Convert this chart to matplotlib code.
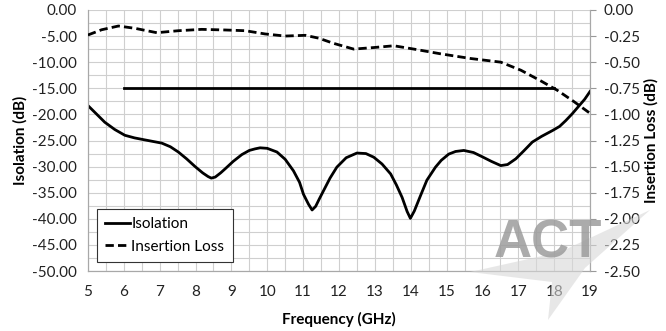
import matplotlib
matplotlib.use("Agg")
import matplotlib.pyplot as plt
from matplotlib.patches import Polygon

plt.rcParams['font.family'] = ['Lato', 'DejaVu Sans']

# isolation (left axis, dB)
iso_f = [5.0, 5.25, 5.47, 5.75, 6.03, 6.3, 6.6, 7.06, 7.3, 7.52, 7.75, 7.99,
         8.2, 8.35, 8.44, 8.55, 8.7, 8.83, 9.05, 9.29, 9.5, 9.66, 9.8, 10.0,
         10.27, 10.5, 10.73, 10.9, 11.01, 11.15, 11.25, 11.35, 11.45, 11.57,
         11.75, 11.94, 12.2, 12.5, 12.75, 12.97, 13.2, 13.44, 13.6, 13.76,
         13.9, 13.99, 14.1, 14.27, 14.45, 14.69, 14.85, 15.06, 15.25, 15.48,
         15.75, 15.99, 16.25, 16.51, 16.7, 16.93, 17.15, 17.39, 17.65, 17.95,
         18.15, 18.32, 18.5, 18.7, 18.85, 19.0]
iso_db = [-18.3, -20.0, -21.5, -22.9, -24.0, -24.5, -24.9, -25.5, -26.2, -27.2,
          -28.5, -30.0, -31.2, -31.9, -32.2, -32.0, -31.2, -30.4, -29.0, -27.7,
          -26.9, -26.6, -26.4, -26.5, -27.2, -28.6, -30.8, -33.0, -35.3, -37.2,
          -38.3, -37.6, -36.2, -34.6, -32.2, -30.1, -28.3, -27.4, -27.5, -28.2,
          -29.5, -31.4, -33.5, -35.9, -38.6, -39.9, -38.5, -35.6, -32.6, -30.1,
          -28.8, -27.6, -27.1, -26.9, -27.3, -28.1, -29.0, -29.8, -29.6, -28.5,
          -27.0, -25.3, -24.2, -23.1, -22.3, -21.2, -19.9, -18.3, -17.1, -15.6]

# insertion loss (right axis, dB)
il_f = [5.0, 5.38, 5.85, 6.31, 6.92, 7.52, 8.17, 8.83, 9.39, 9.94, 10.5, 11.06,
        11.43, 11.85, 12.41, 12.97, 13.53, 14.09, 14.83, 15.67, 16.51, 17.07,
        17.63, 18.09, 18.56, 18.88, 19.0]
il_db = [-0.24, -0.19, -0.154, -0.176, -0.218, -0.199, -0.186, -0.192, -0.199,
         -0.23, -0.25, -0.243, -0.27, -0.32, -0.375, -0.36, -0.343, -0.375,
         -0.42, -0.465, -0.50, -0.577, -0.68, -0.77, -0.88, -0.96, -0.99]

# spec line for isolation
spec_f = [6, 18]
spec_db = [-15, -15]

fig = plt.figure(figsize=(6.66, 3.31), dpi=100)
ax = fig.add_axes([0.132, 0.181, 0.754, 0.789])
ax2 = ax.twinx()

gridc = '#cfcfcf'
ax.set_xlim(5, 19)
ax.set_ylim(-50, 0)
ax.set_xticks(range(5, 20))
ax.set_xticks([x + 0.5 for x in range(5, 19)], minor=True)
ax.set_yticks(range(-50, 1, 5))
ax.set_yticks([y + 2.5 for y in range(-50, 0, 5)], minor=True)
ax.set_yticklabels(['%.2f' % v for v in range(-50, 1, 5)])
ax.grid(True, which='both', color=gridc, lw=0.8)
ax.set_axisbelow(True)
ax.tick_params(which='both', length=0, labelsize=11, colors='#222222')
ax.tick_params(axis='x', pad=10)
ax.tick_params(axis='y', pad=8)

ax2.set_ylim(-2.5, 0)
ax2.set_yticks([-2.5 + 0.25 * i for i in range(11)])
ax2.set_yticklabels(['%.2f' % (-2.5 + 0.25 * i) for i in range(11)])
ax2.tick_params(axis='y', length=4, color='#999999', labelsize=11, colors='#222222')
ax2.tick_params(axis='y', color='#999999', pad=6)

for a in (ax, ax2):
    for s in a.spines.values():
        s.set_color('#a8a8a8')
        s.set_linewidth(0.8)
    a.spines['top'].set_visible(False)

l1, = ax.plot(iso_f, iso_db, color='black', lw=2.0, label='Isolation', zorder=3)
ax.plot(spec_f, spec_db, color='black', lw=2.0, zorder=3)
l2, = ax2.plot(il_f, il_db, color='black', lw=2.0, ls=(0, (3, 1.5)),
               label='Insertion Loss', zorder=3)

leg = ax.legend(handles=[l1, l2], loc='lower left', bbox_to_anchor=(0.018, 0.034),
                borderaxespad=0, fontsize=11, fancybox=False, framealpha=1,
                handlelength=1.6, handletextpad=0.1, borderpad=0.55, labelspacing=0.55)
leg.get_frame().set_edgecolor('#333333')
leg.get_frame().set_linewidth(0.8)

ax.set_ylabel('Isolation (dB)', fontsize=11, fontweight='bold', labelpad=3)
ax2.set_ylabel('Insertion Loss (dB)', fontsize=11, fontweight='bold', labelpad=3)
ax.set_xlabel('Frequency (GHz)', fontsize=11, fontweight='bold', labelpad=9)

# watermark
W, H = 666, 331
pts = [(470, 272), (560, 252), (650, 210), (585, 268), (548, 320), (552, 282)]
fig.patches.append(Polygon([(x / W, 1 - y / H) for x, y in pts], closed=True,
                           transform=fig.transFigure, facecolor='#d8d8d8',
                           edgecolor='none', alpha=0.6, zorder=5))
fig.text(548 / W, 1 - 243 / H, 'ACT', fontsize=38, fontweight='bold',
         family='Liberation Sans', color='#9c9c9c', alpha=0.85,
         ha='center', va='center', zorder=6)

fig.savefig('out.png', dpi=100)
